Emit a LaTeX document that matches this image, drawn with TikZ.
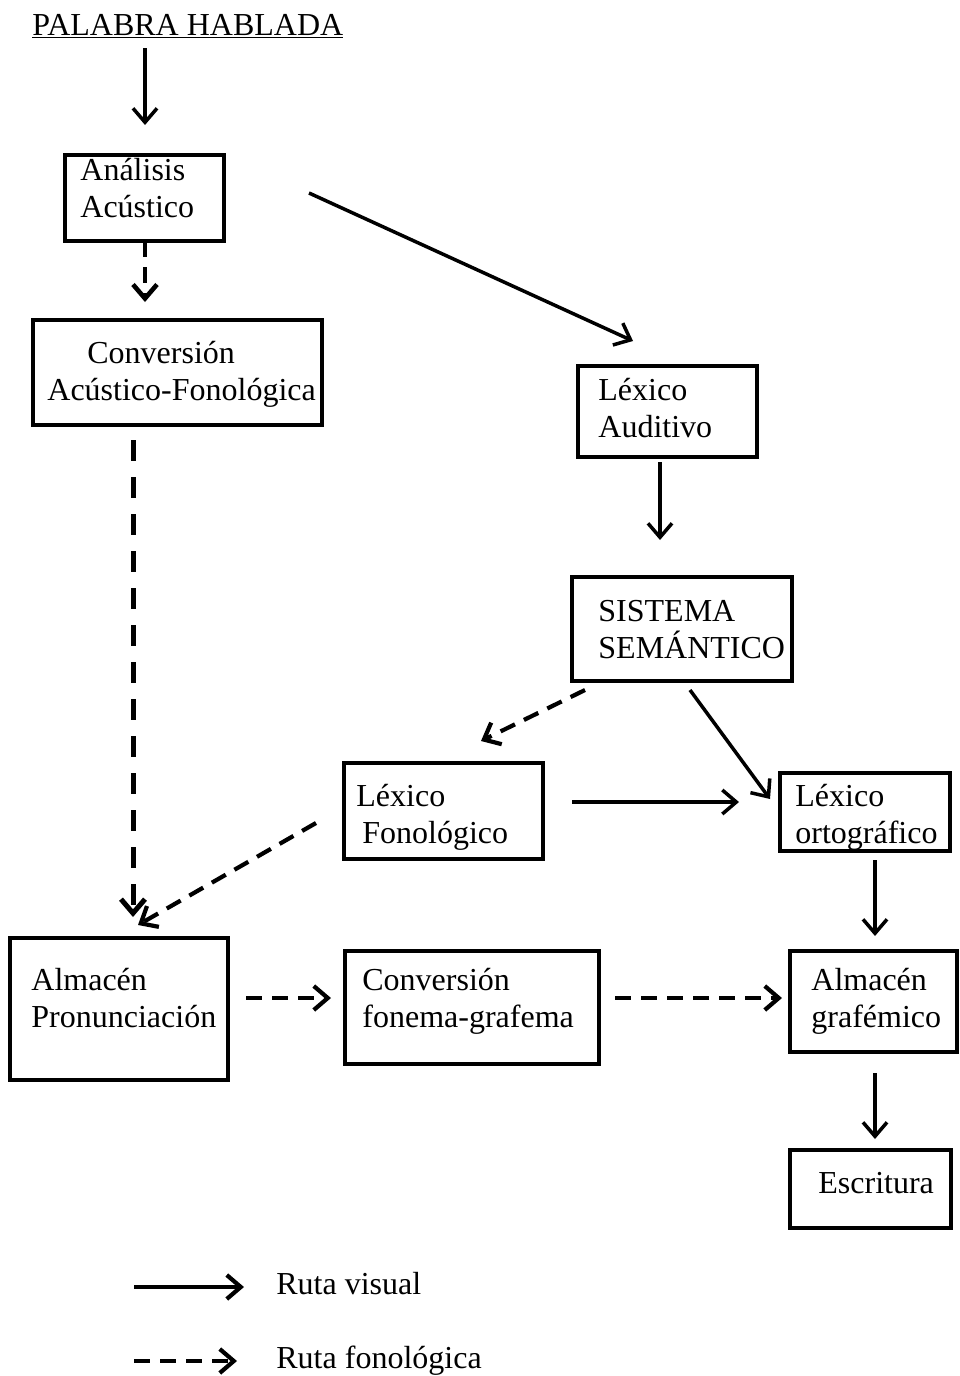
\documentclass[tikz,border=0pt]{standalone}
\usepackage{fontspec}
\setmainfont{Liberation Serif}
\usetikzlibrary{arrows.meta}
\begin{document}
\begin{tikzpicture}[x=0.5pt,y=-0.5pt,
  box/.style={draw,line width=1.8pt,inner sep=0pt,minimum width=#1},
  txt/.style={anchor=base west,inner sep=0pt,font=\fontsize{16}{18}\selectfont},
  tip/.style={-{Straight Barb[length=7pt,width=12pt]}},
  solidarr/.style={tip,line width=1.75pt},
  dasharr/.style={tip,line width=2.1pt,dash pattern=on 8pt off 5pt},
  longdash/.style={tip,line width=2.5pt,dash pattern=on 10.5pt off 8pt}]
\useasboundingbox (0,0) rectangle (959,1376);
% boxes
\node[box=79.5pt,minimum height=43pt] (aa) at (144.5,198) {};
\node[box=144.5pt,minimum height=52.5pt] (caf) at (177.5,372.5) {};
\node[box=89.5pt,minimum height=45.5pt] (la) at (667.5,411.5) {};
\node[box=110pt,minimum height=52pt] (ss) at (682,629) {};
\node[box=99.5pt,minimum height=48pt] (lf) at (443.5,811) {};
\node[box=85pt,minimum height=39pt] (lo) at (865,812) {};
\node[box=109pt,minimum height=71pt] (ap) at (119,1009) {};
\node[box=127pt,minimum height=56.5pt] (cfg) at (472,1007.5) {};
\node[box=83.5pt,minimum height=50.5pt] (ag) at (873.5,1001.5) {};
\node[box=80.5pt,minimum height=39pt] (esc) at (870.5,1189) {};
% texts
\node[txt] (title) at (32,35) {\underline{PALABRA HABLADA}};
\node[txt] (aa1) at (80,180) {Análisis};
\node[txt] (aa2) at (80,217) {Acústico};
\node[txt] (caf1) at (87,363) {Conversión};
\node[txt] (caf2) at (47,400) {Acústico-Fonológica};
\node[txt] (la1) at (598,400) {Léxico};
\node[txt] (la2) at (598,437) {Auditivo};
\node[txt] (ss1) at (598,621) {SISTEMA};
\node[txt] (ss2) at (598,658) {SEMÁNTICO};
\node[txt] (lf1) at (356,806) {Léxico};
\node[txt] (lf2) at (362,843) {Fonológico};
\node[txt] (lo1) at (795,806) {Léxico};
\node[txt] (lo2) at (795,843) {ortográfico};
\node[txt] (ap1) at (31,990) {Almacén};
\node[txt] (ap2) at (31,1027) {Pronunciación};
\node[txt] (cfg1) at (362,990) {Conversión};
\node[txt] (cfg2) at (362,1027) {fonema-grafema};
\node[txt] (ag1) at (811,990) {Almacén};
\node[txt] (ag2) at (811,1027) {grafémico};
\node[txt] (esc1) at (818,1193) {Escritura};
\node[txt] (lg1) at (276,1294) {Ruta visual};
\node[txt] (lg2) at (276,1368) {Ruta fonológica};
% connector end points
\coordinate (p1) at (145,48);   \coordinate (p2) at (145,125);
\coordinate (p3) at (145,241);  \coordinate (p4) at (145,302);
\coordinate (p5) at (309,193);  \coordinate (p6) at (633,341);
\coordinate (p7) at (133,440);  \coordinate (p8) at (133,917);
\coordinate (p9) at (316,823);  \coordinate (p10) at (138,925);
\coordinate (p11) at (660,462); \coordinate (p12) at (660,540);
\coordinate (p13) at (585,690); \coordinate (p14) at (481,741);
\coordinate (p15) at (690,690); \coordinate (p16) at (770,799);
\coordinate (p17) at (572,802); \coordinate (p18) at (739,802);
\coordinate (p19) at (875,860); \coordinate (p20) at (875,936);
\coordinate (p21) at (246,998); \coordinate (p22) at (331,998);
\coordinate (p23) at (615,998); \coordinate (p24) at (782,998);
\coordinate (p25) at (875,1073);\coordinate (p26) at (875,1139);
\coordinate (l1) at (134,1287); \coordinate (l2) at (244,1287);
\coordinate (l3) at (134,1361); \coordinate (l4) at (237,1361);
% connectors
\draw[solidarr] (p1) -- (p2);
\draw[dasharr,line width=2.3pt] (p3) -- (p4);
\draw[solidarr] (p5) -- (p6);
\draw[longdash] (p7) -- (p8);
\draw[dasharr] (p9) -- (p10);
\draw[solidarr] (p11) -- (p12);
\draw[dasharr] (p13) -- (p14);
\draw[solidarr] (p15) -- (p16);
\draw[solidarr] (p17) -- (p18);
\draw[solidarr] (p19) -- (p20);
\draw[dasharr] (p21) -- (p22);
\draw[dasharr] (p23) -- (p24);
\draw[solidarr] (p25) -- (p26);
\draw[solidarr,line width=2.1pt] (l1) -- (l2);
\draw[dasharr] (l3) -- (l4);
\end{tikzpicture}
\end{document}
